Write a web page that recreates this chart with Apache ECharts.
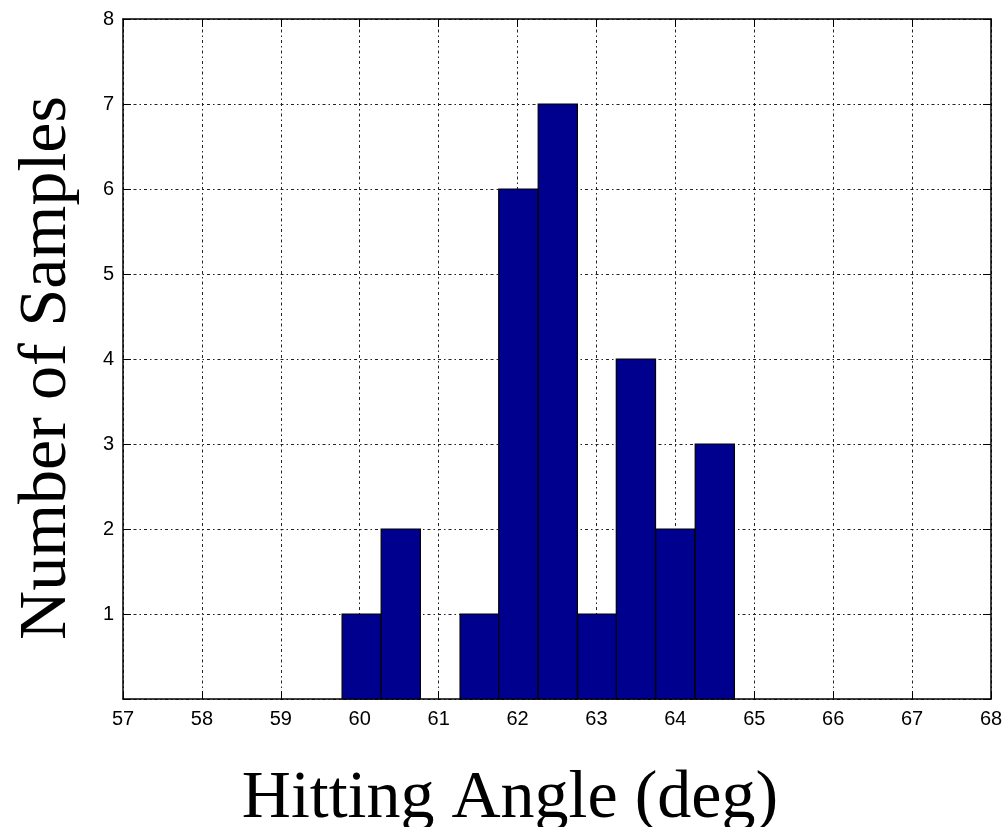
<!DOCTYPE html>
<html>
<head>
<meta charset="utf-8">
<script src="https://cdn.jsdelivr.net/npm/echarts@6/dist/echarts.min.js"></script>
<style>html,body{margin:0;padding:0;background:#fff;}#c{width:1007px;height:827px;}</style>
</head>
<body>
<div id="c"></div>
<script>
// Histogram bin centers (deg) and counts
const binCenters = [60.025, 60.52, 61.02, 61.52, 62.01, 62.51, 63.01, 63.50, 64.00, 64.50];
const counts = [1, 2, 0, 1, 6, 7, 1, 4, 2, 3];
const binWidth = 0.497;
const xTicks = [57, 58, 59, 60, 61, 62, 63, 64, 65, 66, 67, 68];
const yTicks = [1, 2, 3, 4, 5, 6, 7, 8];

const chart = echarts.init(document.getElementById('c'), null, {renderer: 'canvas'});
const data = binCenters.map((c, i) => [c, counts[i]]);
const gridDash = {color: '#222', width: 1, type: [3, 3, 1.5, 3]};
const labelFont = {fontFamily: 'Liberation Sans, Arial, sans-serif', fontSize: 20, color: '#000'};
const serif = 'Liberation Serif, DejaVu Serif, serif';

chart.setOption({
  animation: false,
  backgroundColor: '#fff',
  grid: {left: 123, right: 16, top: 19, bottom: 128, containLabel: false, outerBoundsMode: 'none'},
  xAxis: [{
    type: 'value', min: 57, max: 68, interval: 1, position: 'bottom',
    axisLine: {show: true, onZero: false, lineStyle: {color: '#000', width: 1.5}},
    axisTick: {show: true, inside: true, length: 8, lineStyle: {color: '#000'}},
    axisLabel: Object.assign({margin: 10, formatter: v => xTicks.includes(v) ? String(v) : ''}, labelFont),
    splitLine: {show: true, lineStyle: gridDash},
    name: 'Hitting Angle (deg)', nameLocation: 'middle', nameGap: 66,
    nameTextStyle: {fontFamily: serif, fontSize: 68, color: '#000', padding: [0, 94, 0, 0]}
  }, {
    type: 'value', min: 57, max: 68, interval: 1, position: 'top',
    axisLine: {show: true, onZero: false, lineStyle: {color: '#000', width: 1.5}},
    axisTick: {show: true, inside: true, length: 8, lineStyle: {color: '#000'}},
    axisLabel: {show: false}, splitLine: {show: false}
  }],
  yAxis: [{
    type: 'value', min: 0, max: 8, interval: 1, position: 'left',
    axisLine: {show: true, onZero: false, lineStyle: {color: '#000', width: 1.5}},
    axisTick: {show: true, inside: true, length: 8, lineStyle: {color: '#000'}},
    axisLabel: Object.assign({margin: 9, formatter: v => yTicks.includes(v) ? String(v) : ''}, labelFont),
    splitLine: {show: true, lineStyle: gridDash},
    name: 'Number of Samples', nameLocation: 'middle', nameGap: 42, nameRotate: 90,
    nameTextStyle: {fontFamily: serif, fontSize: 68, color: '#000', padding: [0, 18, 0, 0]}
  }, {
    type: 'value', min: 0, max: 8, interval: 1, position: 'right',
    axisLine: {show: true, onZero: false, lineStyle: {color: '#000', width: 1.5}},
    axisTick: {show: true, inside: true, length: 8, lineStyle: {color: '#000'}},
    axisLabel: {show: false}, splitLine: {show: false}
  }],
  series: [{
    type: 'custom',
    xAxisIndex: 0, yAxisIndex: 0,
    data: data,
    renderItem: function (params, api) {
      const c = api.value(0), n = api.value(1);
      if (n <= 0) return null;
      const p0 = api.coord([c - binWidth / 2, 0]);
      const p1 = api.coord([c + binWidth / 2, n]);
      return {
        type: 'rect',
        shape: {x: p0[0], y: p1[1], width: p1[0] - p0[0], height: p0[1] - p1[1]},
        style: {fill: '#00008f', stroke: '#000', lineWidth: 1.2}
      };
    }
  }]
});
</script>
</body>
</html>
